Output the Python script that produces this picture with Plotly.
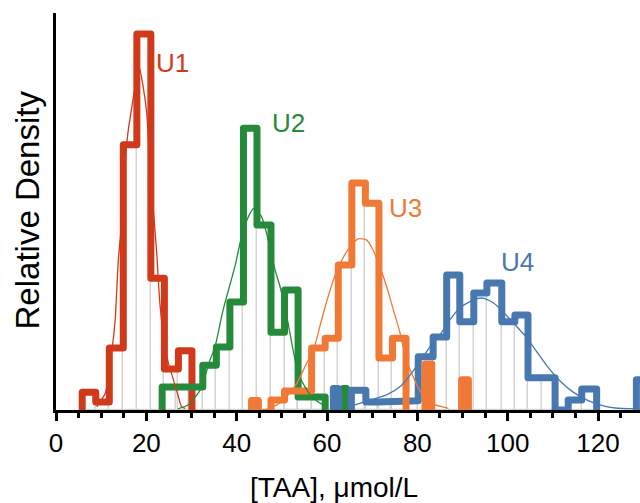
import plotly.graph_objects as go

# ---------------- data ----------------
# x in µmol/L, heights in relative density units (axis 0..100)
u1_edges = [5.8, 8.8, 11.8, 14.9, 17.9, 21.0, 24.0, 27.1, 30.1]
u1_heights = [4.5, 2.0, 15.6, 66.8, 94.7, 33.2, 10.3, 14.9]

u2_edges = [23.5, 26.5, 29.5, 32.5, 35.5, 38.5, 41.5, 44.5, 47.6, 50.6, 53.6, 56.6, 59.6, 63.6, 64.3]
u2_heights = [5.8, 5.8, 5.8, 11.3, 15.9, 27.2, 71.0, 46.6, 19.6, 30.2, 3.3, 3.3, None, 5.4]

u3_edges = [43.3, 44.8, 47.6, 50.6, 53.6, 56.6, 59.6, 62.5, 65.5, 68.5, 71.5, 74.5, 77.5, 81.7, 83.2, 89.8, 91.3]
u3_heights = [2.4, None, 2.5, 4.8, 4.8, 15.6, 18.1, 36.5, 57.2, 52.1, 13.1, 18.1, None, 11.6, None, 7.6]

u4_edges = [61.4, 62.5, 65.4, 68.6, 71.2, 74.2, 77.2, 80.2, 83.5, 86.5, 89.4, 92.5, 95.4,
            98.7, 101.6, 104.5, 107.5, 110.5, 113.4, 116.4, 119.7, 128.5, 131.6]
u4_heights = [5.4, None, 5.0, 2.0, 2.0, 2.0, 2.3, 13.4, 18.4, 34.0, 22.2, 29.5, 32.0,
              22.2, 23.9, 8.1, 8.1, 0.0, 2.5, 5.3, None, 7.6]

# smooth density curves
u1_curve_x = [9.0, 10.9, 12.3, 13.1, 13.8, 14.6, 15.3, 16.0, 16.8, 17.5, 18.4, 19.3, 20.1,
              20.8, 21.5, 22.3, 23.0, 24.1, 24.9, 26.0, 27.1, 27.8, 28.6]
u1_curve_y = [0.8, 4.2, 14.3, 22.7, 37.8, 47.9, 63.0, 70.5, 76.4, 81.4, 86.5, 81.4, 74.7,
              60.5, 51.2, 39.5, 26.9, 15.9, 11.8, 7.6, 3.4, 0.8, 0.4]

u2_curve_x = [27.0, 29.3, 31.9, 33.0, 34.1, 35.2, 37.0, 39.6, 41.1, 42.6, 43.8, 45.5, 46.8,
              48.5, 49.6, 51.1, 52.5, 53.6, 55.1, 56.6, 58.5, 59.9]
u2_curve_y = [0.3, 1.3, 5.0, 8.4, 12.6, 15.9, 25.2, 36.1, 43.7, 48.7, 50.8, 48.7, 43.7,
              35.3, 31.1, 23.5, 15.1, 9.2, 5.9, 3.4, 1.7, 0.8]

u3_curve_x = [45.6, 47.0, 48.9, 51.1, 53.3, 55.5, 57.0, 58.5, 59.9, 61.4, 63.3, 65.1, 66.9,
              68.8, 70.2, 71.7, 73.2, 74.7, 76.2, 77.6, 79.1, 80.6, 82.1, 83.5, 86.9]
u3_curve_y = [0.0, 0.3, 1.3, 3.4, 6.7, 11.8, 15.1, 21.4, 27.2, 32.7, 37.8, 41.1, 43.1,
              42.8, 40.3, 36.1, 31.1, 25.2, 19.3, 12.6, 8.3, 4.8, 2.5, 1.5, 0.4]

u4_curve_x = [66.2, 69.5, 73.2, 76.2, 78.4, 80.6, 82.8, 85.0, 87.2, 89.4, 92.3, 94.5, 96.8,
              99.0, 102.1, 104.3, 106.5, 108.7, 111.6, 114.5, 117.6, 120.4, 123.8, 128.2]
u4_curve_y = [1.3, 2.5, 3.8, 5.9, 8.8, 12.3, 15.9, 18.9, 22.7, 25.7, 27.7, 28.2, 27.0,
              24.7, 20.9, 18.1, 14.6, 11.1, 7.3, 4.5, 2.5, 1.3, 0.5, 0.3]

labels = ["U1", "U2", "U3", "U4"]
label_x = [25.8, 51.5, 77.4, 102.2]
label_y = [87.4, 72.4, 50.8, 37.3]
colors = ["#D03A1A", "#258A3A", "#F07A35", "#4878B0"]

x_ticks = [0, 20, 40, 60, 80, 100, 120]
x_title = "[TAA], μmol/L"
y_title = "Relative Density"

FONT = "Liberation Sans, Arial, Helvetica, sans-serif"

series = [
    (u1_edges, u1_heights, u1_curve_x, u1_curve_y),
    (u2_edges, u2_heights, u2_curve_x, u2_curve_y),
    (u3_edges, u3_heights, u3_curve_x, u3_curve_y),
    (u4_edges, u4_heights, u4_curve_x, u4_curve_y),
]


def outline(edges, heights):
    xs, ys = [], []
    prev = None
    for i, h in enumerate(heights):
        x0, x1 = edges[i], edges[i + 1]
        if h is None:
            if prev is not None:
                xs += [x0, None]
                ys += [0, None]
            prev = None
            continue
        if prev is None:
            xs.append(x0)
            ys.append(0)
        xs += [x0, x1]
        ys += [h, h]
        prev = h
    if prev is not None:
        xs.append(edges[-1])
        ys.append(0)
    return xs, ys


fig = go.Figure()

# light grey bin outlines (drawn first)
for edges, heights, _, _ in series:
    cx, w, hh = [], [], []
    for i, h in enumerate(heights):
        if h:
            cx.append((edges[i] + edges[i + 1]) / 2)
            w.append(edges[i + 1] - edges[i])
            hh.append(h)
    fig.add_trace(go.Bar(x=cx, y=hh, width=w, base=0,
                         marker=dict(color="rgba(0,0,0,0)",
                                     line=dict(color="#D4D4D4", width=1.3)),
                         showlegend=False, hoverinfo="skip"))

# thick step outlines (order: red, green, blue, orange)
for idx in [0, 1, 3, 2]:
    edges, heights, _, _ = series[idx]
    xs, ys = outline(edges, heights)
    fig.add_trace(go.Scatter(x=xs, y=ys, mode="lines", connectgaps=False,
                             line=dict(color=colors[idx], width=7),
                             showlegend=False, hoverinfo="skip"))

# thin density curves
for idx, (_, _, cxs, cys) in enumerate(series):
    fig.add_trace(go.Scatter(x=cxs, y=cys, mode="lines",
                             line=dict(color=colors[idx], width=1.3, shape="spline", smoothing=0.6),
                             showlegend=False, hoverinfo="skip"))

for i, t in enumerate(labels):
    fig.add_annotation(x=label_x[i], y=label_y[i], xref="x", yref="y", text=t,
                       showarrow=False, xanchor="center", yanchor="middle",
                       font=dict(family=FONT, size=26, color=colors[i]))

fig.add_annotation(x=61.5, y=-0.194, xref="x", yref="paper", text=x_title,
                   showarrow=False, xanchor="center", yanchor="middle",
                   font=dict(family=FONT, size=28, color="black"))
fig.add_annotation(x=-0.048, y=0.505, xref="paper", yref="paper", text=y_title,
                   textangle=-90, showarrow=False, xanchor="center", yanchor="middle",
                   font=dict(family=FONT, size=33, color="black"))

fig.update_layout(
    width=640, height=503,
    margin=dict(l=56, r=0, t=13, b=93),
    paper_bgcolor="white", plot_bgcolor="white",
    barmode="overlay", bargap=0,
    xaxis=dict(range=[0, 129.3], tickvals=x_ticks, ticktext=[str(v) for v in x_ticks],
               showline=True, linecolor="black", linewidth=3,
               ticks="outside", ticklen=8, tickwidth=2.5, tickcolor="black",
               tickfont=dict(family=FONT, size=26, color="black"),
               showgrid=False, zeroline=False,
               minor=dict(dtick=5, tick0=0, ticks="outside", ticklen=5, tickwidth=2.5,
                          tickcolor="black", showgrid=False)),
    yaxis=dict(range=[0, 100], showline=True, linecolor="black", linewidth=3,
               ticks="", showticklabels=False, showgrid=False, zeroline=False),
)

post = """
document.body.style.margin = '0';
document.body.style.padding = '0';
document.querySelectorAll('.scatterlayer path.js-line').forEach(function(p){
  p.style.strokeLinejoin = 'round';
});
"""
fig.write_html("out.html", post_script=post, config={"displayModeBar": False})
